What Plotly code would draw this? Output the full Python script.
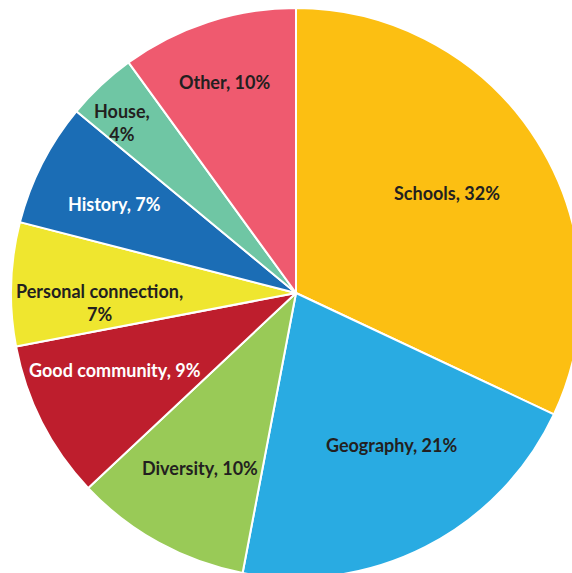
import math
import plotly.graph_objects as go

# Reasons given, in clockwise order starting at 12 o'clock
labels = ["Schools", "Geography", "Diversity", "Good community",
          "Personal connection", "History", "House", "Other"]
values = [32, 21, 10, 9, 7, 7, 4, 10]
colors = ["#FCBF12", "#29ABE2", "#99CA57", "#BE1E2D",
          "#EFE62F", "#1B6DB5", "#6FC6A4", "#EF5A6F"]
text_colors = ["#231F20", "#231F20", "#231F20", "#FFFFFF",
               "#231F20", "#FFFFFF", "#231F20", "#231F20"]
# labels whose percentage goes on a second line
two_line = {"Personal connection", "House"}

# label placement inside each slice: share of the slice's sweep, share of radius
label_sweep = [0.49, 0.43, 0.50, 0.62, 0.32, 0.47, 0.34, 0.48]
label_radius = [0.635, 0.63, 0.70, 0.69, 0.69, 0.71, 0.855, 0.78]

W, H = 600, 600
cx, cy, r = 296, 293, 285

fig = go.Figure(go.Pie(
    labels=labels,
    values=values,
    textinfo="none",
    sort=False,
    direction="clockwise",
    rotation=0,
    marker=dict(colors=colors, line=dict(color="white", width=2)),
    hoverinfo="label+percent",
    domain=dict(x=[(cx - r) / W, (cx + r) / W],
                y=[(H - cy - r) / H, (H - cy + r) / H]),
))

total = sum(values)
start = 0.0
for lab, val, col, fs, fr in zip(labels, values, text_colors, label_sweep, label_radius):
    ang = 2 * math.pi * (start + fs * val) / total
    start += val
    px = cx + fr * r * math.sin(ang)
    py = cy - fr * r * math.cos(ang)
    txt = f"{lab},<br>{val}%" if lab in two_line else f"{lab}, {val}%"
    fig.add_annotation(
        x=px / W, y=(H - py) / H, xref="paper", yref="paper",
        text=txt, showarrow=False, xanchor="center", yanchor="middle",
        font=dict(family="Lato", size=18, color=col, weight="bold"),
    )

fig.update_layout(
    width=W, height=H,
    margin=dict(l=0, r=0, t=0, b=0),
    showlegend=False,
    paper_bgcolor="white",
)

fig.write_html(
    "out.html",
    post_script="document.documentElement.style.overflow='hidden';"
                "document.body.style.overflow='hidden';document.body.style.margin='0';",
)
